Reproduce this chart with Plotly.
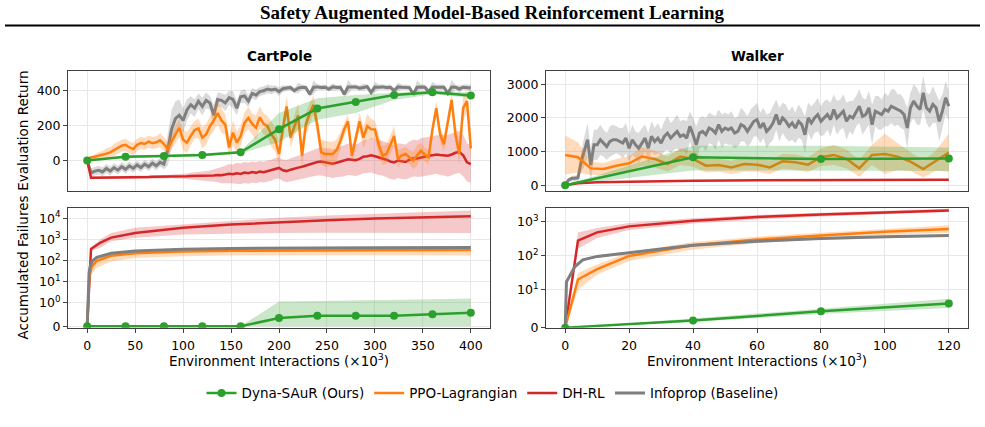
import math
import plotly.graph_objects as go

# ---------------- DATA ----------------
# CartPole evaluation return (x in 10^3 env interactions, step 4)
cp_x = list(range(0, 401, 4))
cp_info_mean = [0, -70, -60, -55, -65, -45, -60, -40, -55, -35, -50, -30, -45, -25, -40, -20, -35, -15, -30, -10, -20,
                60, 180, 240, 260, 230,
                290, 320, 300, 340, 310, 345, 330, 260, 350, 345, 330, 360, 350, 300, 365, 370, 340, 385, 375, 395,
                400, 410, 405, 410, 395,
                412, 415, 418, 400, 415, 420, 418, 380, 420, 422, 418, 420, 410, 422, 418, 420, 380, 421, 420, 422,
                415, 420, 423, 390, 421, 420, 422, 418, 420, 400, 422, 420, 421, 418, 380, 420, 422, 420, 395, 421,
                420, 418, 420, 385, 421, 420, 410, 420, 418, 415]
cp_info_std = [5, 25, 25, 25, 25, 25, 25, 25, 25, 25, 25, 25, 25, 25, 25, 25, 25, 25, 25, 25, 30,
               90, 110, 100, 90, 70,
               60, 50, 50, 45, 50, 45, 40, 60, 40, 40, 45, 40, 50, 40, 35, 40, 35, 30, 30, 25, 25, 25, 25, 20, 25,
               20, 15, 15, 15, 30, 15, 15, 15, 40, 15, 15, 15, 15, 20, 15, 15, 15, 40, 15, 15, 15, 20, 15, 15, 30,
               15, 15, 15, 15, 15, 25, 15, 15, 15, 15, 40, 15, 15, 15, 30, 15, 15, 15, 15, 40, 15, 20, 15, 15, 20]
cp_ppo_mean = [9, 18, 22, 28, 30, 40, 47, 60, 75, 85,
               90, 75, 66, 90, 101, 95, 109, 100, 105, 116,
               95, 66, 110, 150, 188, 120, 103, 141, 175, 184,
               131, 150, 197, 230, 272, 230, 206, 75, 160, 103,
               140, 216, 244, 210, 188, 248, 210, 197, 150, 120,
               38, 180, 310, 131, 200, 259, 28, 206, 270, 319,
               200, 47, 38, 38, 38, 60, 113, 180, 225, 28,
               120, 225, 131, 197, 180, 178, 90, 28, 38, 90,
               141, 10, 30, 38, 20, 0, 30, 56, 35, 19,
               178, 300, 150, 94, 220, 347, 150, 38, 300, 340,
               70]
cp_ppo_std = [5, 10, 15, 20, 25, 30, 30, 35, 35, 35, 35, 35, 35, 35, 35, 35, 35, 35, 35, 40, 40,
              40, 45, 50, 55, 60, 60, 55, 50, 55, 60,
              60, 55, 60, 65, 70, 60, 60, 70, 65, 60,
              60, 65, 60, 70, 65, 60, 60, 70, 70, 65,
              65, 60, 55, 60, 70, 75, 65, 60, 55, 60,
              70, 75, 70, 70, 60, 50, 40, 40, 40, 45,
              50, 60, 70, 60, 50, 60, 55, 55, 60, 55,
              50, 40, 40, 40, 50, 60, 45, 40, 40, 40,
              40, 40, 40, 40, 40, 50, 60, 70, 60, 60]
cp_dh_mean = [0, -98, -98, -98, -97, -97, -97, -97, -96, -96,
              -96, -96, -95, -95, -95, -94, -94, -93, -93, -93,
              -92, -92, -90, -91, -90, -89, -90, -88, -88, -89,
              -87, -88, -86, -85, -82, -84, -80, -75, -78, -72,
              -76, -68, -72, -65, -70, -62, -66, -60, -55, -45,
              -42, -55, -60, -52, -48, -40, -35, -28, -20, -12,
              -8, -5, -10, -15, -18, -12, -5, -2, 8, 5,
              2, 10, 22, 25, 30, 25, 18, 14, 5, -5,
              -10, 0, -5, -8, 5, 14, 12, 18, 22, 28,
              30, 35, 32, 30, 28, 35, 45, 50, 30, -10,
              -20]
cp_dh_std = [0, 8, 8, 8, 8, 8, 8, 8, 8, 8, 8, 8, 8, 8, 8, 8, 8, 8, 8, 8, 10, 10, 10, 12, 12, 14,
             16, 18, 20, 22, 25, 28, 30, 35, 40, 45, 50, 55, 55, 60, 60, 60, 60, 60, 60, 60, 60, 60, 60, 60, 60,
             62, 64, 66, 68, 70, 70, 72, 74, 76, 78, 80, 80, 80, 82, 84, 86, 88, 90, 90, 90,
             92, 94, 96, 98, 100, 100, 100, 100, 100, 100, 100, 100, 100, 105, 105, 105, 110, 110, 110, 110,
             110, 115, 115, 120, 120, 120, 120, 120, 110, 105]
cp_dyna_x = [0, 40, 80, 120, 160, 200, 240, 280, 320, 360, 400]
cp_dyna_mean = [0, 22, 26, 32, 48, 180, 298, 336, 375, 392, 373]
cp_dyna_lo = [0, 15, 18, 25, 40, 107, 234, 272, 347, 380, 360]
cp_dyna_hi = [0, 30, 34, 40, 55, 272, 357, 375, 388, 402, 388]

# CartPole accumulated failures
cpf_dh_x = [0, 4, 14, 25, 50, 100, 150, 200, 250, 300, 350, 400]
cpf_dh_mean = [0, 346, 700, 1200, 2000, 3500, 5000, 6500, 8000, 9500, 11000, 12200]
cpf_dh_lo = [0, 280, 410, 800, 1200, 1700, 1900, 2000, 2050, 2100, 2050, 2000]
cpf_dh_hi = [0, 420, 1000, 2000, 3500, 5000, 7500, 10500, 13500, 16500, 19500, 23000]
cpf_x = [0, 1, 2, 3, 5, 10, 25, 50, 100, 150, 200, 300, 400]
cpf_info_mean = [0, 5, 25, 50, 90, 140, 220, 283, 340, 370, 385, 400, 410]
cpf_info_lo = [0, 3, 18, 40, 75, 120, 200, 260, 315, 345, 360, 375, 385]
cpf_info_hi = [0, 7, 32, 60, 105, 160, 240, 305, 365, 395, 410, 425, 435]
cpf_ppo_mean = [0, 3, 12, 25, 52, 96, 166, 220, 265, 285, 295, 305, 310]
cpf_ppo_lo = [0, 1, 6, 14, 23, 45, 90, 130, 160, 170, 175, 175, 170]
cpf_ppo_hi = [0, 5, 18, 35, 70, 125, 210, 270, 320, 345, 360, 375, 385]
cpf_dyna_mean = [0, 0, 0, 0, 0, 0.35, 0.45, 0.45, 0.45, 0.51, 0.58]
cpf_dyna_lo = [0, 0, 0, 0, 0, 0, 0, 0, 0, 0, 0]
cpf_dyna_hi = [0, 0, 0, 0, 0, 1.15, 1.2, 1.25, 1.3, 1.45, 1.58]

# Walker evaluation return
wk_x = list(range(0, 121))
wk_info_mean = [0, 150, 200, 200, 220, 700, 1000, 1350, 600, 1200,
                1200, 1350, 1250, 1150, 1300, 1350, 1350, 1300, 1250, 1400,
                1100, 1350, 1200, 1100, 1250, 1400, 1100, 1450, 1300, 1400,
                1250, 1450, 1550, 1400, 1500, 1600, 1450, 1500, 1400, 1750,
                1500, 1200, 1550, 1600, 1500, 1700, 1650, 1550, 1800, 1600,
                1700, 1650, 1700, 1550, 1600, 1800, 1750, 1600, 1750, 1900,
                1950, 1700, 1850, 1600, 1700, 1850, 2100, 1800, 2000, 1900,
                1750, 1850, 1700, 1900, 1800, 1500, 2000, 1850, 2000, 2100,
                1900, 2000, 2100, 1950, 2250, 2000, 2100, 2200, 1900, 2050,
                2000, 2200, 2350, 2050, 2100, 2300, 1800, 2200, 2150, 2100,
                2250, 2200, 2350, 2300, 2250, 2200, 2100, 1700, 2300, 2500,
                2350, 2250, 2750, 2300, 2200, 2400, 2300, 1900, 2200, 2600,
                2350]
wk_info_std = [20, 50, 80, 80, 100, 300, 450, 500, 500, 450,
               450, 450, 400, 400, 450, 450, 400, 400, 450, 450,
               400, 450, 400, 450, 450, 400, 450, 450, 400, 450,
               400, 450, 500, 450, 450, 500, 450, 450, 500, 450,
               500, 550, 450, 450, 500, 450, 450, 500, 450, 500,
               450, 450, 500, 450, 450, 500, 450, 450, 500, 450,
               500, 450, 450, 500, 450, 500, 450, 500, 450, 500,
               450, 500, 450, 500, 450, 550, 450, 500, 450, 500,
               450, 500, 450, 500, 450, 500, 450, 500, 550, 450,
               500, 450, 500, 550, 450, 500, 600, 450, 500, 450,
               500, 450, 500, 550, 450, 500, 450, 600, 450, 500,
               550, 450, 500, 450, 500, 550, 450, 600, 500, 500,
               450]
wk_ppo_x = list(range(0, 121, 4))
wk_ppo_mean = [900, 830, 500, 480, 580, 650, 850, 780, 630, 850, 780, 580, 600, 530, 630, 610,
               530, 710, 680, 610, 830, 900, 780, 500, 900, 930, 850, 700, 480, 730, 970]
wk_ppo_std = [580, 450, 200, 180, 200, 220, 280, 250, 220, 250, 230, 200, 200, 200, 220, 210,
              200, 220, 230, 220, 260, 300, 280, 250, 300, 600, 400, 280, 250, 300, 560]
wk_dh_x = [0, 4, 10, 20, 40, 60, 80, 100, 120]
wk_dh_mean = [0, 60, 90, 110, 130, 145, 155, 165, 160]
wk_dh_std = [0, 15, 15, 15, 18, 20, 20, 20, 20]
wk_dyna_x = [0, 40, 80, 120]
wk_dyna_mean = [0, 830, 780, 790]
wk_dyna_lo = [0, 440, 430, 420]
wk_dyna_hi = [0, 1170, 1170, 1120]

# Walker accumulated failures
wkf_dh_x = [0, 4, 10, 20, 40, 60, 80, 100, 120]
wkf_dh_mean = [0, 275, 480, 720, 1050, 1350, 1600, 1850, 2100]
wkf_dh_lo = [0, 160, 330, 560, 880, 1150, 1400, 1650, 1900]
wkf_dh_hi = [0, 480, 650, 900, 1250, 1550, 1800, 2050, 2350]
wkf_info_x = [0, 0.4, 3, 5.5, 10, 20, 40, 60, 80, 100, 120]
wkf_info_mean = [0, 17, 47, 75, 95, 122, 200, 265, 320, 355, 387]
wkf_info_lo = [0, 15, 42, 69, 87, 112, 184, 244, 294, 327, 356]
wkf_info_hi = [0, 19, 52, 81, 103, 132, 216, 286, 346, 383, 418]
wkf_ppo_x = [0, 4, 10, 20, 40, 60, 80, 100, 120]
wkf_ppo_mean = [0, 20, 40, 98, 200, 295, 387, 500, 600]
wkf_ppo_lo = [0, 10, 28, 70, 150, 230, 310, 400, 470]
wkf_ppo_hi = [0, 31, 55, 125, 250, 360, 470, 620, 780]
wkf_dyna_mean = [0, 1.9, 4.3, 6.4]
wkf_dyna_lo = [0, 1.5, 3.6, 5.2]
wkf_dyna_hi = [0, 2.4, 5.0, 7.6]

cp_xticks = [0, 50, 100, 150, 200, 250, 300, 350, 400]
wk_xticks = [0, 20, 40, 60, 80, 100, 120]

# ---------------- STYLE ----------------
COL = {"Dyna-SAuR (Ours)": (44, 160, 44), "PPO-Lagrangian": (255, 127, 14),
       "DH-RL": (214, 39, 40), "Infoprop (Baseline)": (127, 127, 127)}
RANK = {"Dyna-SAuR (Ours)": 1, "PPO-Lagrangian": 2, "DH-RL": 3, "Infoprop (Baseline)": 4}
LSA = 1.0 / (1.0 - 0.1)  # matplotlib symlog linscale adjustment


def symlog(vals, thr):
    out = []
    for v in vals:
        if v <= thr:
            out.append(v / thr * LSA)
        else:
            out.append(LSA + math.log10(v / thr))
    return out


def rgb(name, a=None):
    r, g, b = COL[name]
    if a is None:
        return f"rgb({r},{g},{b})"
    return f"rgba({r},{g},{b},{a})"


fig = go.Figure()


def add(xa, ya, x, mean, lo, hi, name, legend=False, marker=False, width=2.5, alpha=0.28, thr=None):
    if thr is not None:
        mean, lo, hi = symlog(mean, thr), symlog(lo, thr), symlog(hi, thr)
    x = list(x)
    fig.add_trace(go.Scatter(x=x + x[::-1], y=list(hi) + list(lo)[::-1], fill="toself",
                             fillcolor=rgb(name, alpha), line=dict(width=0), mode="lines",
                             hoverinfo="skip", showlegend=False, xaxis=xa, yaxis=ya))
    fig.add_trace(go.Scatter(x=x, y=list(mean), mode="lines+markers" if marker else "lines",
                             line=dict(color=rgb(name), width=width),
                             marker=dict(size=8, color=rgb(name)),
                             name=name, legendgroup=name, showlegend=legend,
                             legendrank=RANK[name], xaxis=xa, yaxis=ya))


def pm(mean, std, sign):
    return [m + sign * s for m, s in zip(mean, std)]


# CartPole return
add("x", "y", cp_x, cp_info_mean, pm(cp_info_mean, cp_info_std, -1), pm(cp_info_mean, cp_info_std, 1),
    "Infoprop (Baseline)", legend=True, width=3)
add("x", "y", cp_x, cp_dh_mean, pm(cp_dh_mean, cp_dh_std, -1), pm(cp_dh_mean, cp_dh_std, 1),
    "DH-RL", legend=True, alpha=0.25)
add("x", "y", cp_x, cp_ppo_mean, pm(cp_ppo_mean, cp_ppo_std, -1), pm(cp_ppo_mean, cp_ppo_std, 1),
    "PPO-Lagrangian", legend=True)
add("x", "y", cp_dyna_x, cp_dyna_mean, cp_dyna_lo, cp_dyna_hi, "Dyna-SAuR (Ours)", legend=True, marker=True, alpha=0.25)

# Walker return
add("x2", "y2", wk_x, wk_info_mean, pm(wk_info_mean, wk_info_std, -1), pm(wk_info_mean, wk_info_std, 1),
    "Infoprop (Baseline)", width=3)
add("x2", "y2", wk_dh_x, wk_dh_mean, pm(wk_dh_mean, wk_dh_std, -1), pm(wk_dh_mean, wk_dh_std, 1), "DH-RL", alpha=0.25)
add("x2", "y2", wk_ppo_x, wk_ppo_mean, pm(wk_ppo_mean, wk_ppo_std, -1), pm(wk_ppo_mean, wk_ppo_std, 1),
    "PPO-Lagrangian")
add("x2", "y2", wk_dyna_x, wk_dyna_mean, wk_dyna_lo, wk_dyna_hi, "Dyna-SAuR (Ours)", marker=True, alpha=0.25)

# CartPole failures (symlog, linthresh 1)
add("x3", "y3", cpf_dh_x, cpf_dh_mean, cpf_dh_lo, cpf_dh_hi, "DH-RL", alpha=0.25, thr=1)
add("x3", "y3", cpf_x, cpf_ppo_mean, cpf_ppo_lo, cpf_ppo_hi, "PPO-Lagrangian", thr=1)
add("x3", "y3", cpf_x, cpf_info_mean, cpf_info_lo, cpf_info_hi, "Infoprop (Baseline)", width=3, thr=1)
add("x3", "y3", cp_dyna_x, cpf_dyna_mean, cpf_dyna_lo, cpf_dyna_hi, "Dyna-SAuR (Ours)", marker=True, alpha=0.25, thr=1)

# Walker failures (symlog, linthresh 10)
add("x4", "y4", wkf_dh_x, wkf_dh_mean, wkf_dh_lo, wkf_dh_hi, "DH-RL", alpha=0.25, thr=10)
add("x4", "y4", wkf_ppo_x, wkf_ppo_mean, wkf_ppo_lo, wkf_ppo_hi, "PPO-Lagrangian", thr=10)
add("x4", "y4", wkf_info_x, wkf_info_mean, wkf_info_lo, wkf_info_hi, "Infoprop (Baseline)", width=3, thr=10)
add("x4", "y4", wk_dyna_x, wkf_dyna_mean, wkf_dyna_lo, wkf_dyna_hi, "Dyna-SAuR (Ours)", marker=True, alpha=0.25, thr=10)

# ---------------- LAYOUT ----------------
W, H = 985, 427
FONT = "DejaVu Sans"


def px(v):
    return v / W


def py(v):
    return 1 - v / H


common = dict(showline=True, mirror=True, linecolor="#404040", linewidth=1, gridcolor="#e8e8e8",
              gridwidth=1, zeroline=False, tickfont=dict(family=FONT, size=12.5, color="black"),
              ticks="outside", ticklen=4, tickcolor="#404040", tickwidth=1)

L_dom = [px(68), px(490)]
R_dom = [px(546), px(968)]
T_dom = [py(194), py(72)]
B_dom = [py(333.3), py(211.7)]

cp_ytick_vals = [0, 1, 10, 100, 1000, 10000]
cp_ytick_text = ["0", "10<sup>0</sup>", "10<sup>1</sup>", "10<sup>2</sup>", "10<sup>3</sup>", "10<sup>4</sup>"]
wk_ytick_vals = [0, 10, 100, 1000]
wk_ytick_text = ["0", "10<sup>1</sup>", "10<sup>2</sup>", "10<sup>3</sup>"]

fig.update_layout(
    width=W, height=H, margin=dict(l=0, r=0, t=0, b=0),
    paper_bgcolor="white", plot_bgcolor="white",
    font=dict(family=FONT, size=12, color="black"),
    xaxis=dict(domain=L_dom, anchor="y", range=[-20, 420], tickvals=cp_xticks, showticklabels=False,
               **{**common, "ticks": ""}),
    xaxis2=dict(domain=R_dom, anchor="y2", range=[-6, 126], tickvals=wk_xticks, showticklabels=False,
                **{**common, "ticks": ""}),
    xaxis3=dict(domain=L_dom, anchor="y3", range=[-20, 420], tickvals=cp_xticks, ticklabelstandoff=2, **common),
    xaxis4=dict(domain=R_dom, anchor="y4", range=[-6, 126], tickvals=wk_xticks, ticklabelstandoff=2, **common),
    yaxis=dict(domain=T_dom, anchor="x", range=[-173, 514], tickvals=[0, 200, 400], **common),
    yaxis2=dict(domain=T_dom, anchor="x2", range=[-167, 3400], tickvals=[0, 1000, 2000, 3000], **common),
    yaxis3=dict(domain=B_dom, anchor="x3", range=[-0.074, 5.58], tickvals=symlog(cp_ytick_vals, 1),
                ticktext=cp_ytick_text, **common),
    yaxis4=dict(domain=B_dom, anchor="x4", range=[-0.005, 3.5], tickvals=symlog(wk_ytick_vals, 10),
                ticktext=wk_ytick_text, **common),
    legend=dict(orientation="h", x=0.5, xanchor="center", y=py(384), yanchor="top",
                font=dict(family=FONT, size=13.5, color="black"), bgcolor="rgba(0,0,0,0)",
                traceorder="normal"),
    showlegend=True,
)

ann = [
    dict(text="<b>Safety Augmented Model-Based Reinforcement Learning</b>", x=0.5, y=py(13), yanchor="middle",
         font=dict(family="Liberation Serif", size=19, color="black")),
    dict(text="<b>CartPole</b>", x=(L_dom[0] + L_dom[1]) / 2, y=py(57), yanchor="middle",
         font=dict(family=FONT, size=13.5)),
    dict(text="<b>Walker</b>", x=(R_dom[0] + R_dom[1]) / 2, y=py(57), yanchor="middle",
         font=dict(family=FONT, size=13.5)),
    dict(text="Evaluation Return", x=px(23), y=py(133), textangle=-90, yanchor="middle",
         font=dict(family=FONT, size=13.5)),
    dict(text="Accumulated Failures", x=px(23), y=py(272), textangle=-90, yanchor="middle",
         font=dict(family=FONT, size=13.5)),
    dict(text="Environment Interactions (×10<sup>3</sup>)", x=(L_dom[0] + L_dom[1]) / 2, y=py(355),
         yanchor="top", font=dict(family=FONT, size=13.5)),
    dict(text="Environment Interactions (×10<sup>3</sup>)", x=(R_dom[0] + R_dom[1]) / 2, y=py(355),
         yanchor="top", font=dict(family=FONT, size=13.5)),
]
for a in ann:
    fig.add_annotation(xref="paper", yref="paper", showarrow=False, xanchor="center", **a)

fig.add_shape(type="line", xref="paper", yref="paper", x0=px(5), x1=px(980), y0=py(26), y1=py(26),
              line=dict(color="black", width=2))

fig.write_html("out.html")
